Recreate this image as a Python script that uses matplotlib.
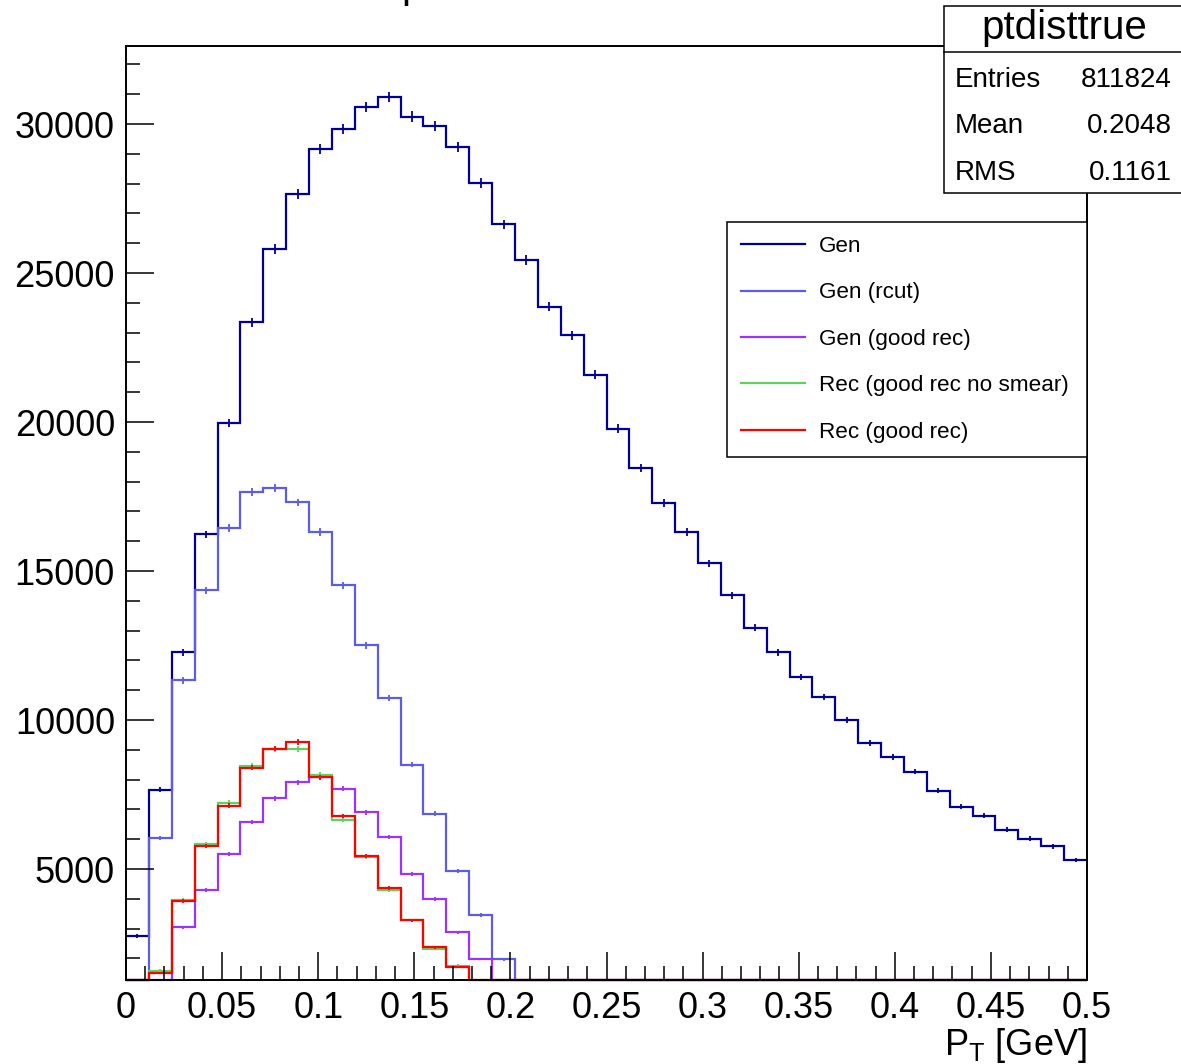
import numpy as np
import matplotlib
matplotlib.use('Agg')
import matplotlib.pyplot as plt
from matplotlib.patches import Rectangle
from matplotlib.lines import Line2D

plt.rcParams['font.family'] = ['Liberation Sans', 'DejaVu Sans']
plt.rcParams['mathtext.fontset'] = 'custom'
plt.rcParams['mathtext.rm'] = 'Liberation Sans'
plt.rcParams['mathtext.it'] = 'Liberation Sans'

# ---------------- data ----------------
n_bins = 42
x_min, x_max = 0.0, 0.5

gen = [2750, 7660, 12270, 16230, 19970, 23350, 25800, 27650, 29150, 29840,
       30580, 30900, 30250, 29940, 29220, 28020, 26630, 25440, 23870, 22910,
       21590, 19780, 18470, 17270, 16300, 15260, 14190, 13100, 12270, 11440,
       10780, 10010, 9240, 8750, 8270, 7630, 7090, 6790, 6320, 6020,
       5760, 5310]
gen_rcut = [0, 6040, 11330, 14350, 16440, 17650, 17780, 17300, 16320, 14520,
            12510, 10750, 8500, 6850, 4940, 3460, 1970] + [0] * 25
gen_goodrec = [0, 0, 3040, 4300, 5500, 6580, 7380, 7910, 8080, 7690,
               6900, 6070, 4840, 3990, 2880, 1980] + [0] * 26
rec_nosmear = [0, 1590, 3950, 5830, 7220, 8460, 9020, 9020, 8150, 6660,
               5410, 4290, 3280, 2330, 1760] + [0] * 27
rec_goodrec = [0, 1510, 3920, 5770, 7130, 8400, 9040, 9270, 8080, 6780,
               5440, 4350, 3280, 2370, 1720] + [0] * 27

series_labels = ['Gen', 'Gen (rcut)', 'Gen (good rec)',
                 'Rec (good rec no smear)', 'Rec (good rec)']
series_colors = ['#000099', '#5c5ce6', '#9933ff', '#5ed25e', '#ff0000']
series_values = [gen, gen_rcut, gen_goodrec, rec_nosmear, rec_goodrec]

xtick_values = [0, 0.05, 0.1, 0.15, 0.2, 0.25, 0.3, 0.35, 0.4, 0.45, 0.5]
xtick_labels = ['0', '0.05', '0.1', '0.15', '0.2', '0.25', '0.3', '0.35',
                '0.4', '0.45', '0.5']
ytick_values = [5000, 10000, 15000, 20000, 25000, 30000]
y_min, y_max = 1275, 32620

stats_title = 'ptdisttrue'
stats_rows = [('Entries', '811824'), ('Mean', '0.2048'), ('RMS', '0.1161')]

# ---------------- figure ----------------
W, H = 1181, 1064
fig = plt.figure(figsize=(W / 100, H / 100), dpi=100)


def fx(px):
    return px / W


def fy(py):
    return 1 - py / H


ax = fig.add_axes([fx(126), fy(980), fx(1087) - fx(126), fy(46) - fy(980)])
edges = np.linspace(x_min, x_max, n_bins + 1)
centers = 0.5 * (edges[:-1] + edges[1:])

for vals, col in zip(series_values, series_colors):
    v = np.asarray(vals, dtype=float)
    shown = np.maximum(v, y_min)
    ax.stairs(shown, edges, baseline=None, color=col, lw=1.6, clip_on=False)
    m = v > 0
    ax.errorbar(centers[m], v[m], yerr=np.sqrt(v[m]), fmt='none',
                ecolor=col, elinewidth=1.3, capsize=0)

ax.set_xlim(x_min, x_max)
ax.set_ylim(y_min, y_max)
ax.set_xticks(xtick_values)
ax.set_xticklabels(xtick_labels)
ax.set_xticks(np.arange(0, 0.5001, 0.01), minor=True)
ax.set_yticks(ytick_values)
ax.set_yticklabels([str(v) for v in ytick_values])
ax.set_yticks(np.arange(2000, 32001, 1000), minor=True)
ax.tick_params(which='both', direction='in', top=False, right=False,
               width=1.1, labelsize=26)
ax.tick_params(which='major', length=20)
ax.tick_params(which='minor', length=10)
ax.tick_params(axis='x', pad=8)
ax.tick_params(axis='y', pad=8)
for s in ax.spines.values():
    s.set_linewidth(1.4)

fig.text(fx(1087), fy(1055), r'P$_{\mathregular{T}}$ [GeV]', ha='right',
         va='baseline', fontsize=26)

# legend
handles = [Line2D([], [], color=c, lw=1.6) for c in series_colors]
leg = ax.legend(handles, series_labels, loc='upper left',
                bbox_to_anchor=(fx(727), fy(455), fx(1087) - fx(727),
                                fy(222) - fy(455)),
                bbox_transform=fig.transFigure, mode='expand',
                borderaxespad=0, fontsize=16.2, handlelength=2.85,
                handletextpad=0.63, labelspacing=1.13, borderpad=0.62,
                fancybox=False, framealpha=1, edgecolor='black')
leg.get_frame().set_linewidth(1.1)

# stats box
fig.add_artist(Rectangle((fx(944), fy(193)), fx(1200) - fx(944),
                         fy(6) - fy(193), transform=fig.transFigure,
                         facecolor='white', edgecolor='black', lw=1.1,
                         zorder=10))
fig.add_artist(Line2D([fx(944), fx(1181)], [fy(52), fy(52)],
                      transform=fig.transFigure, color='black', lw=1.1,
                      zorder=11))
fig.text(fx(1064), fy(39), stats_title, ha='center', va='baseline',
         fontsize=29, zorder=12)
for (name, val), yb in zip(stats_rows, [87, 133, 180]):
    fig.text(fx(955), fy(yb), name, ha='left', va='baseline', fontsize=20,
             zorder=12)
    fig.text(fx(1172), fy(yb), val, ha='right', va='baseline', fontsize=20,
             zorder=12)

# clipped title remnant (the reference title lies mostly above the canvas)
fig.text(fx(401), fy(-2), 'p', ha='left', va='baseline', fontsize=29)

fig.savefig('out.png', dpi=100)
